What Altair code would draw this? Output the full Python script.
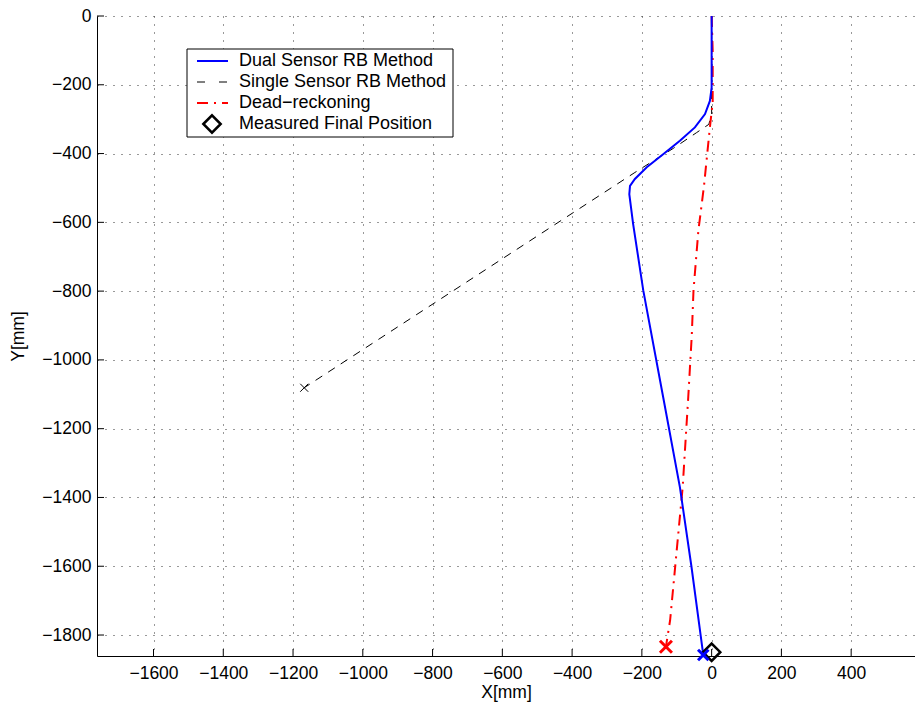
import altair as alt
import pandas as pd

# ---- data ----
dual_x = [0, 0, 0, -5, -19, -48, -91, -139, -186, -220, -234, -236, -225, -196, -139, -91, -58, -24]
dual_y = [0, -131, -208, -247, -285, -324, -363, -402, -440, -474, -494, -518, -605, -798, -1108, -1370, -1600, -1858]

single_x = [0, 0, -8, -43, -110, -167, -220, -1168]
single_y = [0, -285, -315, -339, -385, -421, -455, -1081]

dead_x = [0, 3, 3, -5, -22, -38, -52, -57, -67, -83, -119, -131]
dead_y = [0, -100, -250, -324, -495, -624, -798, -930, -1108, -1370, -1757, -1834]

end_dual = (-24, -1858)
end_single = (-1168, -1081)
end_dead = (-131, -1834)
measured_final = (0, -1850)

x_ticks = [-1600, -1400, -1200, -1000, -800, -600, -400, -200, 0, 200, 400]
y_ticks = [-1800, -1600, -1400, -1200, -1000, -800, -600, -400, -200, 0]

legend_labels = ["Dual Sensor RB Method", "Single Sensor RB Method", "Dead\u2212reckoning", "Measured Final Position"]

# ---- layout ----
W, H = 818, 640
FONT = "Liberation Sans"
FS = 17.5
LFS = 18

xs = alt.Scale(domain=[-1762, 583], nice=False, zero=False)
ys = alt.Scale(domain=[-1861, 0], nice=False, zero=False)

ax_x = alt.Axis(values=x_ticks, format="d", grid=True, gridDash=[1, 7], gridColor="#333", gridOpacity=1,
                ticks=False, domain=True, domainColor="black", domainWidth=1,
                labelFont=FONT, labelFontSize=FS, labelColor="black", labelPadding=8,
                labelFlush=False, labelOverlap=False, labelBaseline="top",
                title="X[mm]", titleFont=FONT, titleFontSize=FS, titleFontWeight="normal",
                titleColor="black", titleX=W / 2, titleY=36, titleBaseline="middle")
ax_y = alt.Axis(values=y_ticks, format="d", grid=True, gridDash=[1, 7], gridColor="#333", gridOpacity=1,
                ticks=False, domain=True, domainColor="black", domainWidth=1,
                labelFont=FONT, labelFontSize=FS, labelColor="black", labelPadding=6,
                labelFlush=False, labelOverlap=False,
                title="Y[mm]", titleFont=FONT, titleFontSize=FS, titleFontWeight="normal",
                titleColor="black", titleX=-79, titleY=H / 2, titleBaseline="middle", titleAngle=-90)


def X(field="x"):
    return alt.X(f"{field}:Q", scale=xs, axis=ax_x)


def Y(field="y"):
    return alt.Y(f"{field}:Q", scale=ys, axis=ax_y)


def series_df(xv, yv):
    return pd.DataFrame({"x": xv, "y": yv, "i": list(range(len(xv)))})


# inside tick marks
xt = alt.Chart(pd.DataFrame({"x": x_ticks})).mark_rule(color="black", strokeWidth=1).encode(
    x=X(), y=alt.value(H), y2=alt.value(H - 7))
yt = alt.Chart(pd.DataFrame({"y": y_ticks})).mark_rule(color="black", strokeWidth=1).encode(
    y=Y(), x=alt.value(0), x2=alt.value(7))

single = alt.Chart(series_df(single_x, single_y)).mark_line(
    color="black", strokeWidth=1, strokeDash=[8, 7]).encode(x=X(), y=Y(), order="i:Q")
dead = alt.Chart(series_df(dead_x, dead_y)).mark_line(
    color="#ff0000", strokeWidth=2, strokeDash=[11, 6, 2, 6]).encode(x=X(), y=Y(), order="i:Q")
dual = alt.Chart(series_df(dual_x, dual_y)).mark_line(
    color="#0000ff", strokeWidth=2).encode(x=X(), y=Y(), order="i:Q")

XPATH = "M-1,-1L1,1M-1,1L1,-1"


def cross(pt, color, size, sw):
    return alt.Chart(pd.DataFrame({"x": [pt[0]], "y": [pt[1]]})).mark_point(
        shape=XPATH, filled=False, color=color, size=size, strokeWidth=sw, opacity=1).encode(x=X(), y=Y())


c_single = cross(end_single, "black", 64, 1)
c_dead = cross(end_dead, "#ff0000", 144, 3)
diamond = alt.Chart(pd.DataFrame({"x": [measured_final[0]], "y": [measured_final[1]]})).mark_point(
    shape="diamond", filled=False, color="black", size=300, strokeWidth=2.5, opacity=1).encode(x=X(), y=Y())
c_dual = cross(end_dual, "#0000ff", 110, 3)

# ---- legend (drawn as chrome) ----
one = pd.DataFrame({"a": [0]})
box = alt.Chart(one).mark_rect(fill="white", stroke="black", strokeWidth=1).encode(
    x=alt.value(90), x2=alt.value(356), y=alt.value(33), y2=alt.value(121))
rows_y = [45, 66, 87, 108]
leg_layers = [box]
sym_x0, sym_x1, txt_x = 100, 131, 142
leg_layers.append(alt.Chart(one).mark_rule(color="#0000ff", strokeWidth=2).encode(
    x=alt.value(sym_x0), x2=alt.value(sym_x1), y=alt.value(rows_y[0])))
leg_layers.append(alt.Chart(one).mark_rule(color="black", strokeWidth=1, strokeDash=[8, 14]).encode(
    x=alt.value(sym_x0), x2=alt.value(sym_x1), y=alt.value(rows_y[1])))
leg_layers.append(alt.Chart(one).mark_rule(color="#ff0000", strokeWidth=2, strokeDash=[11, 6, 2, 6]).encode(
    x=alt.value(sym_x0), x2=alt.value(sym_x1), y=alt.value(rows_y[2])))
leg_layers.append(alt.Chart(one).mark_point(shape="diamond", filled=False, color="black", size=300,
                                            strokeWidth=2.5, opacity=1).encode(
    x=alt.value(115), y=alt.value(rows_y[3])))
for lab, ry in zip(legend_labels, rows_y):
    leg_layers.append(alt.Chart(pd.DataFrame({"t": [lab]})).mark_text(
        align="left", baseline="middle", font=FONT, fontSize=LFS, color="black").encode(
        x=alt.value(txt_x), y=alt.value(ry), text="t:N"))

chart = alt.layer(xt, yt, single, dead, dual, c_single, c_dead, diamond, c_dual, *leg_layers).properties(
    width=W, height=H,
    padding={"left": 97, "top": 16, "right": 0, "bottom": 54},
    autosize=alt.AutoSizeParams(type="none"),
).configure_view(stroke=None)

chart.save("out.html", embed_options={"renderer": "svg", "actions": False})
